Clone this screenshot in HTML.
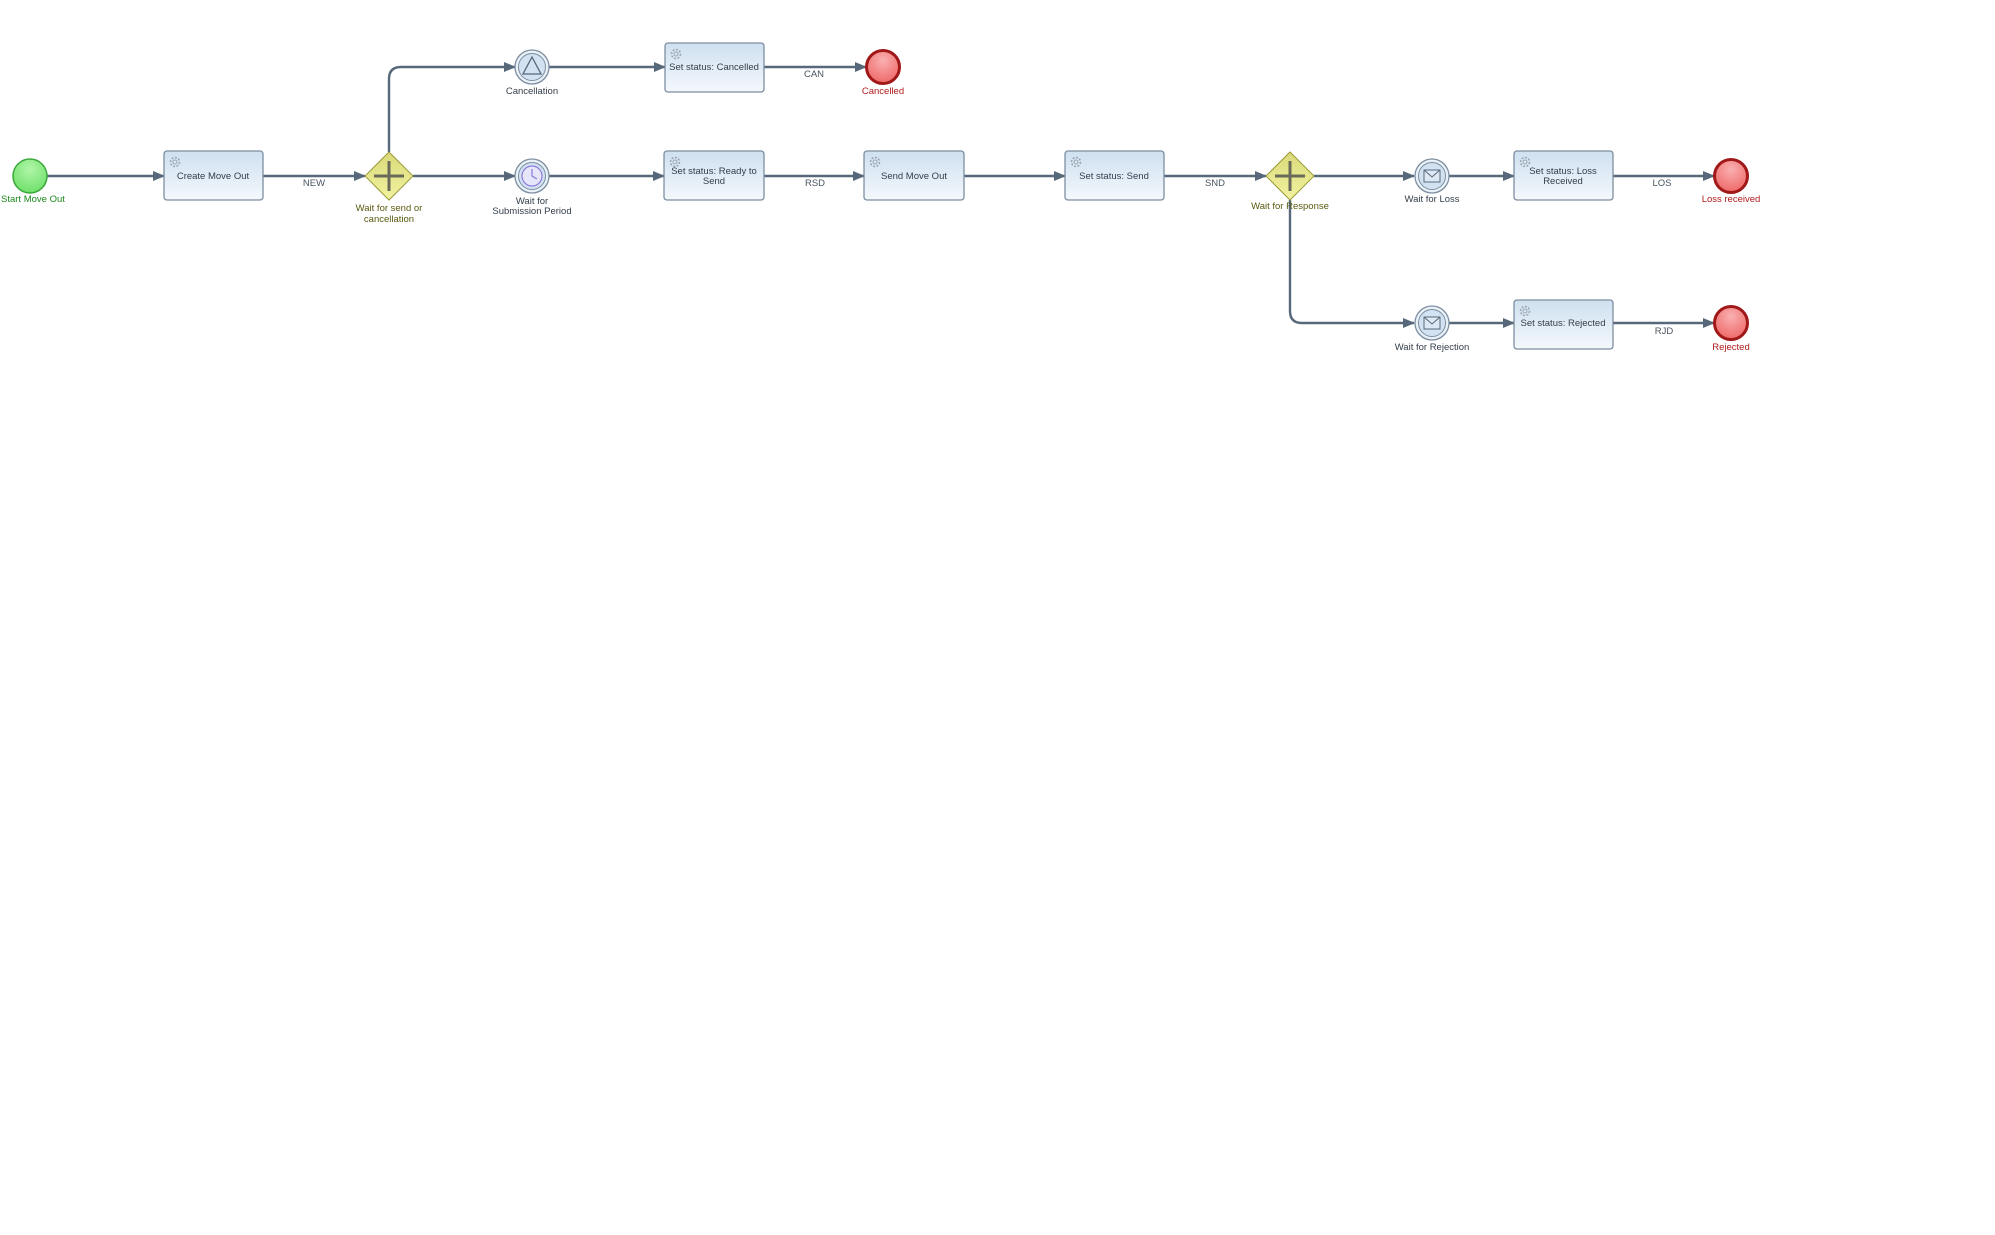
<!DOCTYPE html>
<html><head><meta charset="utf-8"><style>
html,body{margin:0;padding:0;background:#fff;}
svg{display:block;font-family:"Liberation Sans",sans-serif;}
.t{font-size:9.5px;fill:#333e4a;text-anchor:middle}
.l{font-size:9.5px;fill:#4a5560;text-anchor:middle}
.flow{stroke:#56687a;stroke-width:2.4;fill:none}
.box{fill:url(#bg);stroke:#7d8ea0;stroke-width:1.3}
</style></head><body>
<svg width="1995" height="1235" viewBox="0 0 1995 1235" xmlns="http://www.w3.org/2000/svg">
<defs>
<linearGradient id="bg" x1="0" y1="0" x2="0" y2="1"><stop offset="0" stop-color="#cfe0f0"/><stop offset="1" stop-color="#f4f8fc"/></linearGradient>
<radialGradient id="gr" cx="0.5" cy="0.3" r="0.7"><stop offset="0" stop-color="#b0f5a8"/><stop offset="1" stop-color="#6fe06a"/></radialGradient>
<radialGradient id="rd" cx="0.5" cy="0.3" r="0.7"><stop offset="0" stop-color="#f9b0b0"/><stop offset="1" stop-color="#ef6868"/></radialGradient>
<linearGradient id="yl" x1="0" y1="0" x2="0" y2="1"><stop offset="0" stop-color="#d9d97a"/><stop offset="1" stop-color="#f3f3a0"/></linearGradient>
<marker id="a" markerWidth="12" markerHeight="10" refX="11" refY="5" orient="auto" markerUnits="userSpaceOnUse"><path d="M0,0 L12,5 L0,10 z" fill="#56687a"/></marker>
<g id="gear"><circle r="4.5" fill="none" stroke="#9aa6b2" stroke-width="1.6" stroke-dasharray="2 1.5"/><circle r="2" fill="none" stroke="#9aa6b2" stroke-width="1"/></g>
</defs>

<path class="flow" d="M47,176 H164" marker-end="url(#a)"/>
<path class="flow" d="M263,176 H365" marker-end="url(#a)"/>
<path class="flow" d="M413,176 H515" marker-end="url(#a)"/>
<path class="flow" d="M389,152 V79 Q389,67 401,67 H515" marker-end="url(#a)"/>
<path class="flow" d="M549,67 H665" marker-end="url(#a)"/>
<path class="flow" d="M764,67 H866" marker-end="url(#a)"/>
<path class="flow" d="M549,176 H664" marker-end="url(#a)"/>
<path class="flow" d="M764,176 H864" marker-end="url(#a)"/>
<path class="flow" d="M964,176 H1065" marker-end="url(#a)"/>
<path class="flow" d="M1164,176 H1266" marker-end="url(#a)"/>
<path class="flow" d="M1314,176 H1414" marker-end="url(#a)"/>
<path class="flow" d="M1448,176 H1514" marker-end="url(#a)"/>
<path class="flow" d="M1613,176 H1714" marker-end="url(#a)"/>
<path class="flow" d="M1290,200 V311 Q1290,323 1302,323 H1414" marker-end="url(#a)"/>
<path class="flow" d="M1448,323 H1514" marker-end="url(#a)"/>
<path class="flow" d="M1613,323 H1714" marker-end="url(#a)"/>

<text class="l" x="314" y="186">NEW</text>
<text class="l" x="815" y="186">RSD</text>
<text class="l" x="814" y="77">CAN</text>
<text class="l" x="1215" y="186">SND</text>
<text class="l" x="1662" y="186">LOS</text>
<text class="l" x="1664" y="334">RJD</text>

<circle cx="30" cy="176" r="17" fill="url(#gr)" stroke="#3aa83a" stroke-width="1.5"/>
<text x="1" y="202" style="font-size:9.5px;fill:#1c8a1c;text-anchor:start">Start Move Out</text>

<rect class="box" x="164" y="151" width="99" height="49" rx="3"/><use href="#gear" x="175" y="162"/>
<text class="t" x="213" y="179">Create Move Out</text>

<rect class="box" x="665" y="43" width="99" height="49" rx="3"/><use href="#gear" x="676" y="54"/>
<text class="t" x="714" y="70">Set status: Cancelled</text>

<rect class="box" x="664" y="151" width="100" height="49" rx="3"/><use href="#gear" x="675" y="162"/>
<text class="t" x="714" y="174">Set status: Ready to</text><text class="t" x="714" y="184">Send</text>

<rect class="box" x="864" y="151" width="100" height="49" rx="3"/><use href="#gear" x="875" y="162"/>
<text class="t" x="914" y="179">Send Move Out</text>

<rect class="box" x="1065" y="151" width="99" height="49" rx="3"/><use href="#gear" x="1076" y="162"/>
<text class="t" x="1114" y="179">Set status: Send</text>

<rect class="box" x="1514" y="151" width="99" height="49" rx="3"/><use href="#gear" x="1525" y="162"/>
<text class="t" x="1563" y="174">Set status: Loss</text><text class="t" x="1563" y="184">Received</text>

<rect class="box" x="1514" y="300" width="99" height="49" rx="3"/><use href="#gear" x="1525" y="311"/>
<text class="t" x="1563" y="326">Set status: Rejected</text>

<g transform="translate(389,176)"><path d="M0,-24 L24,0 L0,24 L-24,0 z" fill="url(#yl)" stroke="#9a9a3a" stroke-width="1"/><path d="M0,-15 V15 M-15,0 H15" stroke="#6a6a5a" stroke-width="3"/></g>
<text x="389" y="211" style="font-size:9.5px;fill:#5a5a10;text-anchor:middle">Wait for send or</text>
<text x="389" y="222" style="font-size:9.5px;fill:#5a5a10;text-anchor:middle">cancellation</text>
<g transform="translate(1290,176)"><path d="M0,-24 L24,0 L0,24 L-24,0 z" fill="url(#yl)" stroke="#9a9a3a" stroke-width="1"/><path d="M0,-15 V15 M-15,0 H15" stroke="#6a6a5a" stroke-width="3"/></g>
<text x="1290" y="209" style="font-size:9.5px;fill:#5a5a10;text-anchor:middle">Wait for Response</text>

<g transform="translate(532,67)"><circle r="17" fill="#e8f0f8" stroke="#7d8ea0" stroke-width="1.3"/><circle r="13.5" fill="#d2e2f2" stroke="#7d8ea0" stroke-width="1"/><path d="M0,-10 L9,7 L-9,7 z" fill="none" stroke="#56687a" stroke-width="1.3"/></g>
<text class="t" x="532" y="94">Cancellation</text>
<g transform="translate(532,176)"><circle r="17" fill="#e8f0f8" stroke="#7d8ea0" stroke-width="1.3"/><circle r="13.5" fill="#d2e2f2" stroke="#7d8ea0" stroke-width="1"/><circle r="10" fill="#e6e6fa" stroke="#8a7ad8" stroke-width="1.2"/><path d="M0,-7 V0 L5,3" stroke="#8a7ad8" stroke-width="1.2" fill="none"/></g>
<text class="t" x="532" y="204">Wait for</text><text class="t" x="532" y="214">Submission Period</text>
<g transform="translate(1432,176)"><circle r="17" fill="#e8f0f8" stroke="#7d8ea0" stroke-width="1.3"/><circle r="13.5" fill="#d2e2f2" stroke="#7d8ea0" stroke-width="1"/><rect x="-8" y="-6" width="16" height="12" fill="#dde8f4" stroke="#56687a" stroke-width="1"/><path d="M-8,-6 L0,1 L8,-6" fill="none" stroke="#56687a" stroke-width="1"/></g>
<text class="t" x="1432" y="202">Wait for Loss</text>
<g transform="translate(1432,323)"><circle r="17" fill="#e8f0f8" stroke="#7d8ea0" stroke-width="1.3"/><circle r="13.5" fill="#d2e2f2" stroke="#7d8ea0" stroke-width="1"/><rect x="-8" y="-6" width="16" height="12" fill="#dde8f4" stroke="#56687a" stroke-width="1"/><path d="M-8,-6 L0,1 L8,-6" fill="none" stroke="#56687a" stroke-width="1"/></g>
<text class="t" x="1432" y="350">Wait for Rejection</text>

<circle cx="883" cy="67" r="16.5" fill="url(#rd)" stroke="#a01818" stroke-width="3"/>
<text x="883" y="94" style="font-size:9.5px;fill:#b01c1c;text-anchor:middle">Cancelled</text>
<circle cx="1731" cy="176" r="16.5" fill="url(#rd)" stroke="#a01818" stroke-width="3"/>
<text x="1731" y="202" style="font-size:9.5px;fill:#b01c1c;text-anchor:middle">Loss received</text>
<circle cx="1731" cy="323" r="16.5" fill="url(#rd)" stroke="#a01818" stroke-width="3"/>
<text x="1731" y="350" style="font-size:9.5px;fill:#b01c1c;text-anchor:middle">Rejected</text>
</svg>
</body></html>
